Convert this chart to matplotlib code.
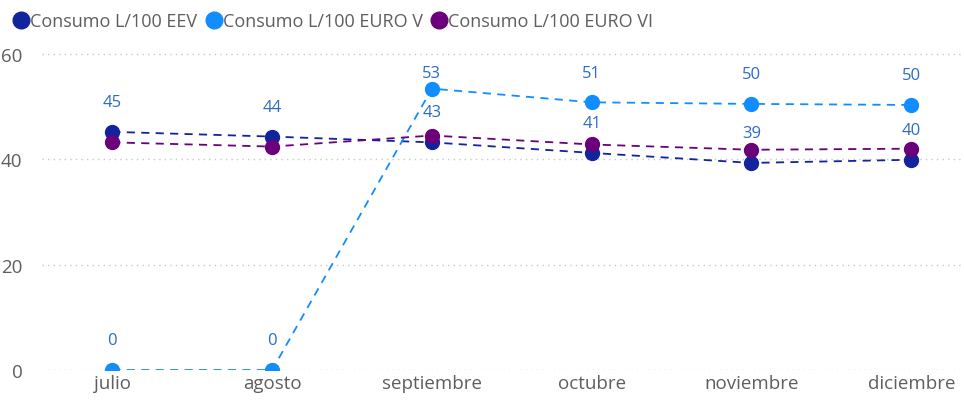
import matplotlib
matplotlib.use("Agg")
import matplotlib.pyplot as plt
from matplotlib.lines import Line2D

# Data
months = ["julio", "agosto", "septiembre", "octubre", "noviembre", "diciembre"]
eev = [45.2, 44.3, 43.2, 41.2, 39.3, 39.9]
euro_v = [0, 0, 53.4, 50.8, 50.5, 50.3]
euro_vi = [43.2, 42.4, 44.5, 42.8, 41.8, 42.0]

series_names = ["Consumo L/100 EEV", "Consumo L/100 EURO V", "Consumo L/100 EURO VI"]
colors = ["#12239E", "#118DFF", "#6B007B"]
label_color = "#2B6CC4"
text_gray = "#605E5C"

plt.rcParams["font.family"] = ["Open Sans", "DejaVu Sans"]

fig = plt.figure(figsize=(9.64, 4.02), dpi=100)
ax = fig.add_axes([0.0436, 0.0771, 0.9564, 0.852])

x = list(range(len(months)))
for vals, col in zip([eev, euro_v, euro_vi], colors):
    ax.plot(x, vals, color=col, linestyle=(0, (4.5, 3.5)), linewidth=1.3,
            marker="o", markersize=10, zorder=3)

# data labels only for EEV and EURO V
for vals in [eev, euro_v]:
    for xi, v in zip(x, vals):
        ly = min(v + 5.7, 56.4)
        ax.text(xi, ly, f"{round(v):.0f}", ha="center", va="center",
                fontsize=12, color=label_color, zorder=4)

ax.set_xlim(-0.44, 5.33)
ax.set_ylim(0, 65)
ax.set_yticks([0, 20, 40, 60])
ax.set_xticks(x)
ax.set_xticklabels(months)
ax.grid(axis="y", color="#C8C8C8", linestyle=(0, (1, 3)), linewidth=1)
ax.set_axisbelow(True)
for s in ax.spines.values():
    s.set_visible(False)
ax.tick_params(axis="both", length=0, labelsize=13.5, colors=text_gray)
ax.tick_params(axis="x", pad=3)
ax.tick_params(axis="y", pad=14)

handles = [Line2D([], [], linestyle="none", marker="o", markersize=12, color=c)
           for c in colors]
fig.legend(handles, series_names, loc="upper left", bbox_to_anchor=(-0.006, 1.007),
           ncol=3, frameon=False, fontsize=13, handletextpad=-0.1,
           columnspacing=0.3, handlelength=1.2, labelcolor=text_gray)

fig.savefig("out.png", dpi=100)
